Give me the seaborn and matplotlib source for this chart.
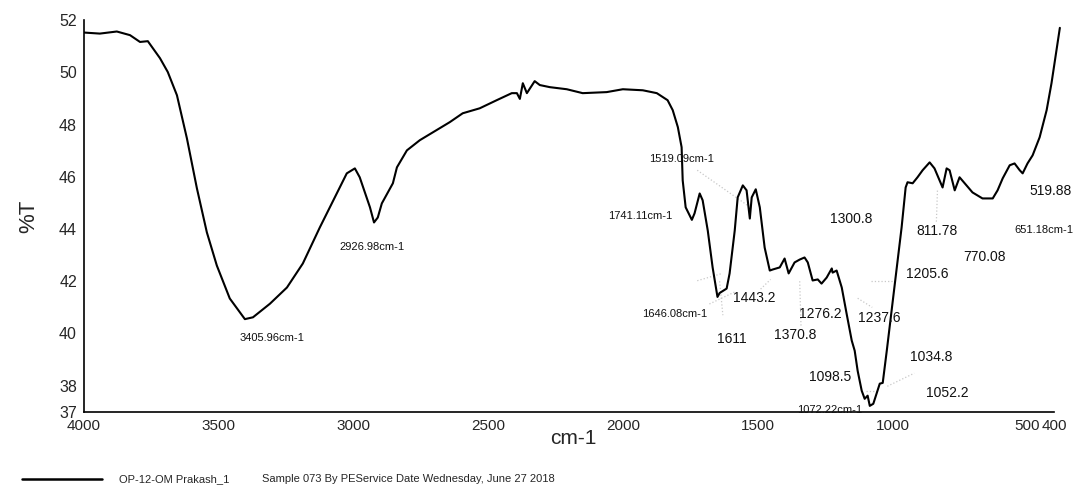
import numpy as np
import pandas as pd
import matplotlib
matplotlib.use("Agg")
import matplotlib.pyplot as plt
from matplotlib.lines import Line2D
import seaborn as sns

# Spectrum: wavenumber (cm-1) and %T
wavenumber = [4000, 3941, 3878, 3829, 3792, 3763, 3718, 3689, 3655, 3618, 3581, 3544,
              3507, 3459, 3403, 3373, 3310, 3247, 3188, 3125, 3062, 3025, 2995, 2977,
              2939, 2924, 2910, 2895, 2854, 2839, 2802, 2754, 2643, 2595, 2532, 2469,
              2413, 2394, 2383, 2372, 2357, 2328, 2309, 2272, 2209, 2150, 2061, 2001,
              1927, 1875, 1835, 1816, 1797, 1783, 1779, 1768, 1745, 1735, 1716, 1705,
              1686, 1668, 1650, 1642, 1616, 1605, 1586, 1575, 1556, 1542, 1530, 1523,
              1508, 1493, 1475, 1456, 1445, 1419, 1401, 1386, 1364, 1345, 1327, 1315,
              1297, 1278, 1264, 1245, 1226, 1223, 1208, 1189, 1171, 1152, 1141, 1130,
              1115, 1104, 1093, 1085, 1072, 1060, 1048, 1037, 1022, 1004, 985, 967,
              952, 945, 926, 908, 889, 863, 845, 815, 800, 789, 770, 752, 733, 704,
              667, 629, 611, 592, 566, 548, 529, 518, 500, 481, 455, 429, 411, 396, 380]
transmittance = [51.52, 51.48, 51.56, 51.42, 51.16, 51.19, 50.54, 50.01, 49.12, 47.47,
                 45.56, 43.87, 42.60, 41.34, 40.55, 40.62, 41.14, 41.76, 42.68, 44.06,
                 45.36, 46.13, 46.32, 45.98, 44.83, 44.25, 44.44, 44.98, 45.75, 46.36,
                 47.01, 47.40, 48.09, 48.43, 48.62, 48.93, 49.20, 49.20, 48.98, 49.58,
                 49.20, 49.66, 49.51, 49.43, 49.35, 49.20, 49.24, 49.35, 49.31, 49.20,
                 48.93, 48.55, 47.90, 47.13, 45.86, 44.83, 44.35, 44.60, 45.36, 45.10,
                 43.94, 42.53, 41.40, 41.55, 41.72, 42.30, 43.94, 45.21, 45.67, 45.48,
                 44.40, 45.21, 45.52, 44.83, 43.29, 42.41, 42.45, 42.53, 42.87, 42.30,
                 42.72, 42.83, 42.91, 42.72, 42.03, 42.07, 41.91, 42.14, 42.49, 42.33,
                 42.41, 41.76, 40.76, 39.73, 39.34, 38.57, 37.81, 37.50, 37.62, 37.23,
                 37.31, 37.69, 38.08, 38.11, 39.34, 40.88, 42.53, 44.06, 45.59, 45.79,
                 45.75, 45.98, 46.25, 46.55, 46.32, 45.59, 46.32, 46.25, 45.48, 45.98,
                 45.75, 45.40, 45.17, 45.17, 45.48, 45.94, 46.44, 46.51, 46.25, 46.13,
                 46.51, 46.82, 47.51, 48.55, 49.58, 50.60, 51.70]

# Peak annotations (label, wavenumber position, %T position)
peak_labels = ["3405.96cm-1", "2926.98cm-1", "1519.09cm-1", "1741.11cm-1", "1646.08cm-1",
               "1611", "1443.2", "1276.2", "1370.8", "1237.6", "1300.8", "1205.6",
               "811.78", "770.08", "519.88", "651.18cm-1", "1034.8", "1098.5",
               "1052.2", "1072.22cm-1"]
peak_label_x = [3302, 2931, 1784, 1936, 1810, 1595, 1513, 1268, 1361, 1049, 1153, 871,
                834, 659, 414, 440, 856, 1231, 797, 1234]
peak_label_y = [39.84, 43.33, 46.67, 44.48, 40.76, 39.80, 41.34, 40.76, 39.96, 40.61,
                44.37, 42.26, 43.94, 42.91, 45.44, 43.98, 39.11, 38.34, 37.73, 37.08]

# faint leader lines (x0, y0, x1, y1)
leader_x0 = [1725, 1725, 1680, 1642, 1490, 1345, 1130, 1082, 834, 1020, 1100]
leader_y0 = [46.25, 42.02, 41.13, 42.0, 41.70, 42.0, 41.35, 42.0, 45.47, 37.98, 37.78]
leader_x1 = [1538, 1632, 1586, 1630, 1453, 1340, 1076, 995, 838, 920, 1055]
leader_y1 = [44.90, 42.30, 41.59, 40.70, 42.07, 40.25, 41.0, 42.0, 44.28, 38.48, 37.78]

x_ticks = [4000, 3500, 3000, 2500, 2000, 1500, 1000, 500, 400]
y_ticks = [37, 38, 40, 42, 44, 46, 48, 50, 52]

df = pd.DataFrame({"wn": wavenumber, "T": transmittance})

sns.set_style("white")
plt.rcParams["font.family"] = ["Liberation Sans", "DejaVu Sans"]

fig = plt.figure(figsize=(10.76, 4.88), dpi=100)
ax = fig.add_axes([0.078, 0.156, 0.909, 0.803])

sns.lineplot(data=df, x="wn", y="T", sort=False, estimator=None, color="black",
             linewidth=1.5, ax=ax)

for x0, y0, x1, y1 in zip(leader_x0, leader_y0, leader_x1, leader_y1):
    ax.plot([x0, x1], [y0, y1], color="#c8c8c8", linestyle=":", linewidth=0.9, zorder=1)

for lab, lx, ly in zip(peak_labels, peak_label_x, peak_label_y):
    fs = 8 if "cm" in lab else 10
    ax.text(lx, ly, lab, fontsize=fs, ha="center", va="center", color="#111111")

ax.set_xlim(4000, 372)
ax.set_ylim(37, 52)
ax.set_xticks(x_ticks)
ax.set_xticklabels([str(t) for t in x_ticks])
ax.set_yticks(y_ticks)
ax.set_yticklabels([str(t) for t in y_ticks])
ax.tick_params(axis="x", direction="in", length=5, width=1, labelsize=11, pad=5)
ax.tick_params(axis="y", direction="out", length=4, width=1, labelsize=11.5, pad=1)
for s in ["top", "right"]:
    ax.spines[s].set_visible(False)
for s in ["left", "bottom"]:
    ax.spines[s].set_color("black")
    ax.spines[s].set_linewidth(1.2)
ax.spines["bottom"].set_bounds(4000, 400)
ax.set_xlabel("cm-1", fontsize=15, labelpad=-3)
ax.set_ylabel("%T", fontsize=16, labelpad=14)
ax.grid(False)

# footer
fy = 1 - 479 / 488
fig.add_artist(Line2D([22 / 1076, 102 / 1076], [fy, fy],
                      color="black", linewidth=1.8, transform=fig.transFigure))
fig.text(119 / 1076, fy, "OP-12-OM Prakash_1", fontsize=8, va="center")
fig.text(262 / 1076, fy,
         "Sample 073 By PEService Date Wednesday, June 27 2018", fontsize=8, va="center")

fig.savefig("out.png", dpi=100)
